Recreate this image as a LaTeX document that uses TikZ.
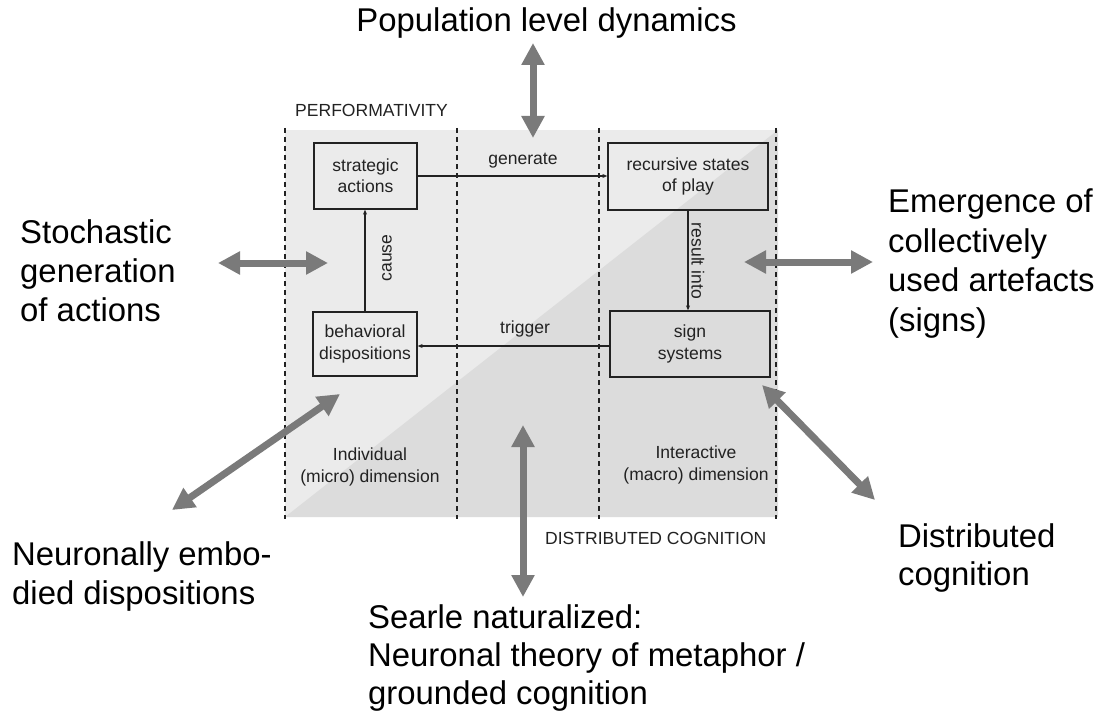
\documentclass[tikz,border=0pt]{standalone}
\usepackage{fontspec}
\setmainfont{Liberation Sans}
\usetikzlibrary{arrows.meta,calc}
\definecolor{bglight}{HTML}{EBEBEB}
\definecolor{bgdark}{HTML}{DCDCDC}
\definecolor{bigarrow}{HTML}{7A7A7A}
\definecolor{ink}{HTML}{222222}
\tikzset{
  bigtext/.style={font=\fontsize{33}{39.5}\selectfont, align=left, inner sep=0pt, anchor=north west, text=black},
  smalltext/.style={font=\fontsize{17.6}{21.5}\selectfont, inner sep=0pt, text=ink},
  boxnode/.style={draw=ink, line width=1.3bp, align=center, inner sep=0pt, font=\fontsize{17.6}{21.5}\selectfont, text=ink},
  thinarrow/.style={draw=ink, line width=1.1bp, -{Stealth[length=5bp,width=4bp]}},
  bigdbl/.style={draw=bigarrow, line width=7bp, {Triangle[length=22bp,width=22bp]}-{Triangle[length=22bp,width=22bp]}},
  divider/.style={draw=ink, line width=1.3bp, dash pattern=on 5bp off 4bp}
}
\begin{document}
\begin{tikzpicture}[x=1bp,y=-1bp]
\useasboundingbox (0,0) rectangle (1109,724);
\fill[white] (0,0) rectangle (1109,724);
% background panel
\fill[bglight] (285,130) rectangle (778,517);
\fill[bgdark] (285,517) -- (778,517) -- (778,130) -- cycle;
\foreach \xx in {285,457,599,776} {
  \draw[divider] (\xx,128) -- (\xx,519);
}
% boxes
\node[boxnode, minimum width=103bp, minimum height=66bp] (strat) at (365.5,176) {strategic\\actions};
\node[boxnode, minimum width=160bp, minimum height=67bp] (rec) at (688,176.5) {recursive states\\of play};
\node[boxnode, minimum width=104bp, minimum height=64bp] (beh) at (365,344) {behavioral\\dispositions};
\node[boxnode, minimum width=160bp, minimum height=66bp] (sign) at (690,344) {sign\\systems};
% connectors
\draw[thinarrow] (strat.east) -- (strat.east -| rec.west);
\draw[thinarrow] (beh.north) -- (beh.north |- strat.south);
\draw[thinarrow] (rec.south) -- (rec.south |- sign.north);
\draw[thinarrow] ($(sign.west)+(0,2)$) -- ($(sign.west -| beh.east)+(0,2)$);
% connector labels
\node[smalltext, anchor=base] (lgen) at (523,165) {generate};
\node[smalltext, anchor=base] (ltrig) at (525,333) {trigger};
\node[smalltext, rotate=90] (lcause) at (387,258) {cause};
\node[smalltext, rotate=-90] (lres) at (698,261) {result into};
% panel labels
\node[smalltext, anchor=base west] (perf) at (295,117) {PERFORMATIVITY};
\node[smalltext, anchor=base west] (dcog) at (545,544) {DISTRIBUTED COGNITION};
\node[smalltext, align=center] (indiv) at (370,467) {Individual\\(micro) dimension};
\node[smalltext, align=center] (inter) at (696,465) {Interactive\\(macro) dimension};
% outer labels
\node[font=\fontsize{33}{39.5}\selectfont, inner sep=0pt, anchor=base] (pop) at (546.5,32) {Population level dynamics};
\node[bigtext] (stoch) at (20,219) {Stochastic\\generation\\of actions};
\node[bigtext] (emerg) at (888,189) {Emergence of\\collectively\\used artefacts\\(signs)};
\node[bigtext] (neuro) at (12,541) {Neuronally embo-\\died dispositions};
\node[bigtext, font=\fontsize{33}{38.5}\selectfont] (searle) at (368,604) {Searle naturalized:\\Neuronal theory of metaphor /\\grounded cognition};
\node[bigtext, font=\fontsize{33}{38.5}\selectfont] (distr) at (898,523) {Distributed\\cognition};
% big double arrows
\coordinate (topA) at (533,43);
\coordinate (topB) at (533,138);
\coordinate (leftA) at (218,263);
\coordinate (leftB) at (328,263);
\coordinate (rightA) at (744,262);
\coordinate (rightB) at (873,262);
\coordinate (llA) at (172,510);
\coordinate (llB) at (340,394);
\coordinate (lrA) at (762,385);
\coordinate (lrB) at (875,500);
\coordinate (botA) at (523,425);
\coordinate (botB) at (523,597);
\draw[bigdbl] (topA) -- (topB);
\draw[bigdbl] (leftA) -- (leftB);
\draw[bigdbl] (rightA) -- (rightB);
\draw[bigdbl] (llA) -- (llB);
\draw[bigdbl] (lrA) -- (lrB);
\draw[bigdbl] (botA) -- (botB);
\end{tikzpicture}
\end{document}
